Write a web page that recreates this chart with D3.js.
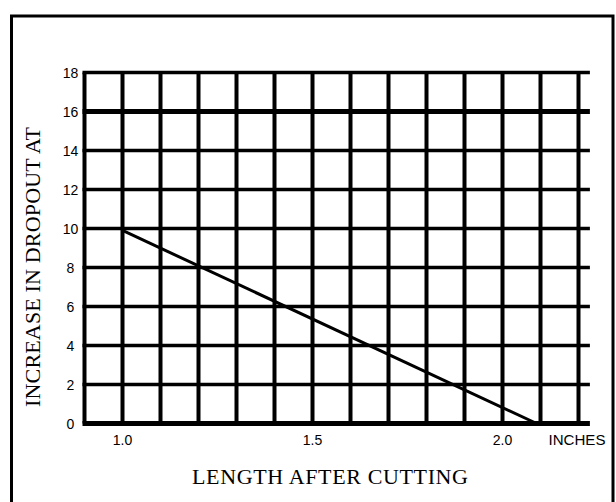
<!DOCTYPE html>
<html>
<head>
<meta charset="utf-8">
<script src="https://cdn.jsdelivr.net/npm/d3@7"></script>
<style>
  body { margin: 0; background: #fff; }
  svg { display: block; }
</style>
</head>
<body>
<div id="chart-area"></div>
<script>
// chart values
var xGrid = [0.9, 1.0, 1.1, 1.2, 1.3, 1.4, 1.5, 1.6, 1.7, 1.8, 1.9, 2.0, 2.1, 2.2];
var xTickLabels = ["1.0", "1.5", "2.0"];
var yTicks = [0, 2, 4, 6, 8, 10, 12, 14, 16, 18];
var lengthIn = [1.0, 2.09];
var dropout = [9.9, 0];

var width = 616, height = 502;

var svg = d3.select("#chart-area")
    .append("svg")
        .attr("width", width)
        .attr("height", height);

svg.append("rect")
    .attr("width", width)
    .attr("height", height)
    .attr("fill", "#fff");

// frame round the figure (bottom runs off the picture)
svg.append("rect")
    .attr("x", 11.5)
    .attr("y", 16)
    .attr("width", 601.5)
    .attr("height", 520)
    .attr("fill", "none")
    .attr("stroke", "#000")
    .attr("stroke-width", 3);

var xScale = d3.scaleLinear()
    .domain([0.9, 2.2])
    .range([84.5, 578.5]);

var yScale = d3.scaleLinear()
    .domain([0, 18])
    .range([423.5, 72.5]);

var g = svg.append("g");

// vertical grid
g.selectAll("line.vgrid")
    .data(xGrid)
    .enter()
    .append("line")
        .attr("class", "vgrid")
        .attr("x1", function(d){ return xScale(d); })
        .attr("x2", function(d){ return xScale(d); })
        .attr("y1", yScale(18))
        .attr("y2", yScale(0))
        .attr("stroke", "#000")
        .attr("stroke-width", 4);

// horizontal grid, a little past the last column
g.selectAll("line.hgrid")
    .data(yTicks)
    .enter()
    .append("line")
        .attr("class", "hgrid")
        .attr("x1", xScale(0.9) - 2)
        .attr("x2", xScale(2.23))
        .attr("y1", function(d){ return yScale(d); })
        .attr("y2", function(d){ return yScale(d); })
        .attr("stroke", "#000")
        .attr("stroke-width", function(d){
            return (d == 0 || d == 16) ? 5 : 3.5;
        });

// y tick labels
g.selectAll("text.ylab")
    .data(yTicks)
    .enter()
    .append("text")
        .attr("class", "ylab")
        .attr("x", 70.5)
        .attr("y", function(d){ return yScale(d); })
        .attr("dy", "0.36em")
        .attr("text-anchor", "middle")
        .attr("font-family", "Liberation Sans, Arial, sans-serif")
        .attr("font-size", "14px")
        .text(function(d){ return d; });

// x tick labels
g.selectAll("text.xlab")
    .data(xTickLabels)
    .enter()
    .append("text")
        .attr("class", "xlab")
        .attr("x", function(d){ return xScale(+d); })
        .attr("y", 445)
        .attr("text-anchor", "middle")
        .attr("font-family", "Liberation Sans, Arial, sans-serif")
        .attr("font-size", "14px")
        .text(function(d){ return d; });

g.append("text")
    .attr("x", 577)
    .attr("y", 445)
    .attr("text-anchor", "middle")
    .attr("font-family", "Liberation Sans, Arial, sans-serif")
    .attr("font-size", "14px")
    .attr("textLength", 57)
    .attr("lengthAdjust", "spacingAndGlyphs")
    .text("INCHES");

// axis titles
g.append("text")
    .attr("x", 330)
    .attr("y", 484)
    .attr("text-anchor", "middle")
    .attr("font-family", "Liberation Serif, Times New Roman, serif")
    .attr("font-size", "22px")
    .attr("textLength", 276)
    .attr("lengthAdjust", "spacing")
    .text("LENGTH AFTER CUTTING");

g.append("text")
    .attr("transform", "translate(40, 267) rotate(-90)")
    .attr("text-anchor", "middle")
    .attr("font-family", "Liberation Serif, Times New Roman, serif")
    .attr("font-size", "22px")
    .attr("textLength", 280)
    .attr("lengthAdjust", "spacing")
    .text("INCREASE IN DROPOUT AT");

// data line
var line = d3.line()
    .x(function(d){ return xScale(d[0]); })
    .y(function(d){ return yScale(d[1]); });

g.append("path")
    .attr("d", line(d3.zip(lengthIn, dropout)))
    .attr("fill", "none")
    .attr("stroke", "#000")
    .attr("stroke-width", 3);
</script>
</body>
</html>
